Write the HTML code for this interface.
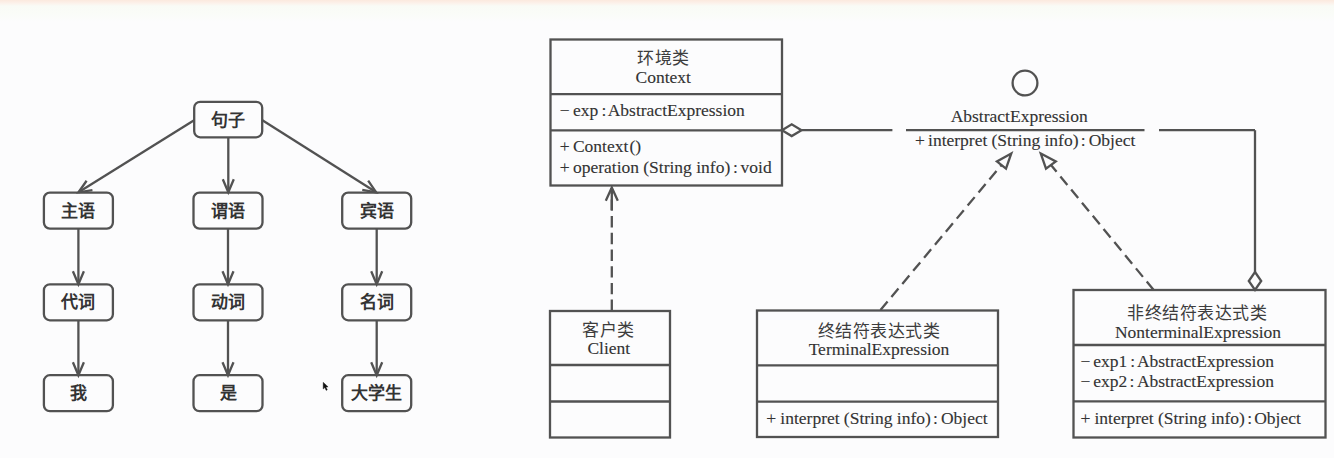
<!DOCTYPE html>
<html lang="zh-CN"><head><meta charset="utf-8">
<style>
html,body{margin:0;padding:0;width:1334px;height:458px;overflow:hidden;background:#fcfcfd;}
.bg{position:absolute;left:0;top:0;width:1334px;height:458px;background:linear-gradient(to bottom,#fbe9de 0px,#fcf1ea 3px,#f9fbf6 6px,#fafcf8 14px,#fcfcfd 22px);}
svg{position:absolute;left:0;top:0;}
text{font-family:"Liberation Serif",serif;}
.te{font-size:17.5px;fill:#333333;stroke:#333333;stroke-width:0.12px;}
.tc{font-size:17px;fill:#3d3d3d;font-weight:500;letter-spacing:0.5px;}
.tz{font-size:17px;fill:#333333;font-weight:bold;text-anchor:middle;}
</style></head><body>
<div class="bg"></div>
<svg width="1334" height="458" viewBox="0 0 1334 458">
<defs><filter id="bl" x="-2%" y="-2%" width="104%" height="104%"><feGaussianBlur stdDeviation="0.6"/></filter></defs>
<g>
<rect x="194.2" y="101.8" width="68" height="35.5" rx="6" ry="6" fill="none" stroke="#525252" stroke-width="2.3"/>
<text x="228.2" y="125.55" class="tz">句子</text>
<rect x="43.9" y="192.6" width="69" height="36" rx="6" ry="6" fill="none" stroke="#525252" stroke-width="2.3"/>
<text x="78.4" y="216.6" class="tz">主语</text>
<rect x="43.9" y="284.3" width="69" height="36" rx="6" ry="6" fill="none" stroke="#525252" stroke-width="2.3"/>
<text x="78.4" y="308.3" class="tz">代词</text>
<rect x="43.9" y="375.2" width="69" height="36" rx="6" ry="6" fill="none" stroke="#525252" stroke-width="2.3"/>
<text x="78.4" y="399.2" class="tz">我</text>
<rect x="193.5" y="192.6" width="69" height="36" rx="6" ry="6" fill="none" stroke="#525252" stroke-width="2.3"/>
<text x="228.0" y="216.6" class="tz">谓语</text>
<rect x="193.5" y="284.3" width="69" height="36" rx="6" ry="6" fill="none" stroke="#525252" stroke-width="2.3"/>
<text x="228.0" y="308.3" class="tz">动词</text>
<rect x="193.5" y="375.2" width="69" height="36" rx="6" ry="6" fill="none" stroke="#525252" stroke-width="2.3"/>
<text x="228.0" y="399.2" class="tz">是</text>
<rect x="342.2" y="192.6" width="69" height="36" rx="6" ry="6" fill="none" stroke="#525252" stroke-width="2.3"/>
<text x="376.7" y="216.6" class="tz">宾语</text>
<rect x="342.2" y="284.3" width="69" height="36" rx="6" ry="6" fill="none" stroke="#525252" stroke-width="2.3"/>
<text x="376.7" y="308.3" class="tz">名词</text>
<rect x="342.2" y="375.2" width="69" height="36" rx="6" ry="6" fill="none" stroke="#525252" stroke-width="2.3"/>
<text x="376.7" y="399.2" class="tz">大学生</text>
<line x1="194.5" y1="120" x2="78.5" y2="192.3" stroke="#525252" stroke-width="2.3"/>
<polyline points="86.62,180.76 78.5,192.3 92.44,190.09" fill="none" stroke="#525252" stroke-width="2.3" stroke-linejoin="miter"/>
<line x1="228.3" y1="137.3" x2="228.3" y2="192.3" stroke="#525252" stroke-width="2.3"/>
<polyline points="222.80,179.30 228.3,192.3 233.80,179.30" fill="none" stroke="#525252" stroke-width="2.3" stroke-linejoin="miter"/>
<line x1="262" y1="120" x2="376.2" y2="192.3" stroke="#525252" stroke-width="2.3"/>
<polyline points="362.27,189.99 376.2,192.3 368.16,180.70" fill="none" stroke="#525252" stroke-width="2.3" stroke-linejoin="miter"/>
<line x1="78.4" y1="228.6" x2="78.4" y2="284.3" stroke="#525252" stroke-width="2.3"/>
<polyline points="72.90,271.30 78.4,284.3 83.90,271.30" fill="none" stroke="#525252" stroke-width="2.3" stroke-linejoin="miter"/>
<line x1="78.4" y1="320.3" x2="78.4" y2="375.2" stroke="#525252" stroke-width="2.3"/>
<polyline points="72.90,362.20 78.4,375.2 83.90,362.20" fill="none" stroke="#525252" stroke-width="2.3" stroke-linejoin="miter"/>
<line x1="228.0" y1="228.6" x2="228.0" y2="284.3" stroke="#525252" stroke-width="2.3"/>
<polyline points="222.50,271.30 228.0,284.3 233.50,271.30" fill="none" stroke="#525252" stroke-width="2.3" stroke-linejoin="miter"/>
<line x1="228.0" y1="320.3" x2="228.0" y2="375.2" stroke="#525252" stroke-width="2.3"/>
<polyline points="222.50,362.20 228.0,375.2 233.50,362.20" fill="none" stroke="#525252" stroke-width="2.3" stroke-linejoin="miter"/>
<line x1="376.7" y1="228.6" x2="376.7" y2="284.3" stroke="#525252" stroke-width="2.3"/>
<polyline points="371.20,271.30 376.7,284.3 382.20,271.30" fill="none" stroke="#525252" stroke-width="2.3" stroke-linejoin="miter"/>
<line x1="376.7" y1="320.3" x2="376.7" y2="375.2" stroke="#525252" stroke-width="2.3"/>
<polyline points="371.20,362.20 376.7,375.2 382.20,362.20" fill="none" stroke="#525252" stroke-width="2.3" stroke-linejoin="miter"/>
<rect x="550.5" y="39.5" width="231.5" height="146" fill="none" stroke="#525252" stroke-width="2.3"/>
<line x1="550.5" y1="94.2" x2="782" y2="94.2" stroke="#525252" stroke-width="2.3"/>
<line x1="550.5" y1="130.3" x2="782" y2="130.3" stroke="#525252" stroke-width="2.3"/>
<text x="663.5" y="64" class="tc" text-anchor="middle">环境类</text>
<text x="663.2" y="83.2" class="te" text-anchor="middle">Context</text>
<text y="116" class="te"><tspan x="559.73">−</tspan><tspan x="572.92">exp</tspan><tspan x="601.62">:</tspan><tspan x="607.73">AbstractExpression</tspan></text>
<text y="152" class="te"><tspan x="559.73">+</tspan><tspan x="572.88">Context</tspan><tspan x="629.43">()</tspan></text>
<text y="173" class="te"><tspan x="559.73">+</tspan><tspan x="572.93">operation</tspan><tspan x="643.23">(String info)</tspan><tspan x="733.12">:</tspan><tspan x="740.60">void</tspan></text>
<polygon points="782,130.2 791.7,124.3 801.5,130.2 791.7,136.1" fill="#fcfcfc" stroke="#525252" stroke-width="2.3"/>
<line x1="801.5" y1="130.2" x2="892.4" y2="130.2" stroke="#525252" stroke-width="2.3"/>
<line x1="906" y1="130.2" x2="1144.5" y2="130.2" stroke="#525252" stroke-width="2.3"/>
<circle cx="1025" cy="83" r="12.4" fill="none" stroke="#525252" stroke-width="2.3"/>
<text x="1019.2" y="121.5" class="te" text-anchor="middle">AbstractExpression</text>
<text y="146.3" class="te"><tspan x="914.93">+</tspan><tspan x="928.03">interpret</tspan><tspan x="991.53">(String info)</tspan><tspan x="1080.82">:</tspan><tspan x="1088.68">Object</tspan></text>
<line x1="1159" y1="130.2" x2="1255" y2="130.2" stroke="#525252" stroke-width="2.3"/>
<line x1="1255" y1="130.2" x2="1255" y2="272" stroke="#525252" stroke-width="2.3"/>
<polygon points="1255,272 1261.2,281 1255,290 1248.8,281" fill="#fcfcfc" stroke="#525252" stroke-width="2.3"/>
<polygon points="1011.3,153.5 996.9,161.4 1006,168.6" fill="none" stroke="#525252" stroke-width="2.3" stroke-linejoin="miter"/>
<polygon points="1040.8,153.5 1055.8,161.4 1046,168.6" fill="none" stroke="#525252" stroke-width="2.3" stroke-linejoin="miter"/>
<line x1="880.5" y1="310" x2="1001.5" y2="165" stroke="#525252" stroke-width="2.3" stroke-dasharray="11 6"/>
<line x1="1153.7" y1="290" x2="1051" y2="165" stroke="#525252" stroke-width="2.3" stroke-dasharray="11 6"/>
<line x1="611.8" y1="311" x2="611.8" y2="188" stroke="#525252" stroke-width="2.3" stroke-dasharray="11.4 5.3"/>
<line x1="611.8" y1="188" x2="611.8" y2="210" stroke="#525252" stroke-width="2.3"/>
<polyline points="605.8,200.7 611.8,187.6 617.8,200.7" fill="none" stroke="#525252" stroke-width="2.3"/>
<rect x="550" y="311" width="120" height="126.5" fill="none" stroke="#525252" stroke-width="2.3"/>
<line x1="550" y1="365" x2="670" y2="365" stroke="#525252" stroke-width="2.3"/>
<line x1="550" y1="401.5" x2="670" y2="401.5" stroke="#525252" stroke-width="2.3"/>
<text x="608.6" y="336" class="tc" text-anchor="middle">客户类</text>
<text x="608.8" y="354" class="te" text-anchor="middle">Client</text>
<rect x="757" y="310.5" width="241" height="126.5" fill="none" stroke="#525252" stroke-width="2.3"/>
<line x1="757" y1="365.3" x2="998" y2="365.3" stroke="#525252" stroke-width="2.3"/>
<line x1="757" y1="401.7" x2="998" y2="401.7" stroke="#525252" stroke-width="2.3"/>
<text x="879" y="337" class="tc" text-anchor="middle">终结符表达式类</text>
<text x="879" y="355" class="te" text-anchor="middle">TerminalExpression</text>
<text y="424" class="te"><tspan x="766.33">+</tspan><tspan x="780.33">interpret</tspan><tspan x="843.83">(String info)</tspan><tspan x="933.12">:</tspan><tspan x="940.98">Object</tspan></text>
<rect x="1073.5" y="290" width="252" height="147.5" fill="none" stroke="#525252" stroke-width="2.3"/>
<line x1="1073.5" y1="345" x2="1325.5" y2="345" stroke="#525252" stroke-width="2.3"/>
<line x1="1073.5" y1="401.3" x2="1325.5" y2="401.3" stroke="#525252" stroke-width="2.3"/>
<text x="1197" y="319" class="tc" text-anchor="middle">非终结符表达式类</text>
<text x="1198" y="337.6" class="te" text-anchor="middle">NonterminalExpression</text>
<text y="366.8" class="te"><tspan x="1080.43">−</tspan><tspan x="1093.22">exp1</tspan><tspan x="1130.32">:</tspan><tspan x="1136.93">AbstractExpression</tspan></text>
<text y="387" class="te"><tspan x="1080.43">−</tspan><tspan x="1093.22">exp2</tspan><tspan x="1129.42">:</tspan><tspan x="1136.93">AbstractExpression</tspan></text>
<text y="424" class="te"><tspan x="1080.43">+</tspan><tspan x="1094.43">interpret</tspan><tspan x="1157.93">(String info)</tspan><tspan x="1247.22">:</tspan><tspan x="1254.18">Object</tspan></text>
<path d="M323.2,382.3 L323.2,389 L324.8,387.6 L326.2,390.4 L327.3,389.8 L325.9,387.1 L328.1,386.9 Z" fill="#111" stroke="#111" stroke-width="0.4"/>
</g>
</svg>
</body></html>
